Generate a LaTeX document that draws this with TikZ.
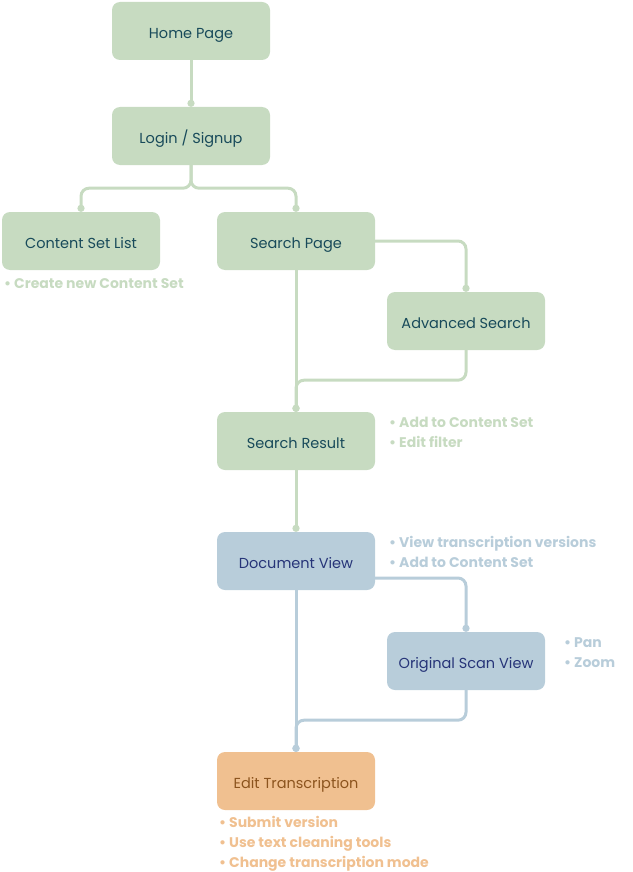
\documentclass[tikz,border=0pt]{standalone}
\usepackage{fontspec}
\setmainfont{Poppins}
\usetikzlibrary{arrows.meta}
\definecolor{boxgreen}{RGB}{199,219,193}
\definecolor{boxblue}{RGB}{184,205,218}
\definecolor{boxorange}{RGB}{240,192,144}
\definecolor{textgreen}{RGB}{24,74,90}
\definecolor{textblue}{RGB}{38,52,120}
\definecolor{textorange}{RGB}{140,84,30}
\begin{document}
\begin{tikzpicture}[x=1pt, y=-1pt,
				>={Circle[length=7pt]},   %Punkte an den Enden
				page/.style={rounded corners=8pt, minimum width=158pt, minimum height=58pt, inner sep=0pt, text height=18pt, text depth=3pt, font=\fontsize{14.5}{16}\selectfont},
				greenpage/.style={page, fill=boxgreen, text=textgreen},
				bluepage/.style={page, fill=boxblue, text=textblue},
				orangepage/.style={page, fill=boxorange, text=textorange},
				link/.style={->, line width=3pt, rounded corners=8pt},
				note/.style={anchor=base west, inner sep=0pt, font=\fontsize{14}{16}\selectfont\bfseries}]
				%Bildbereich
				\useasboundingbox (0,0) rectangle (632,872);
				% Seiten zeichnen
				\node[greenpage] (home) at (191,31) {Home Page};
				\node[greenpage] (login) at (191,136) {Login / Signup};
				\node[greenpage] (list) at (81,241) {Content Set List};
				\node[greenpage] (search) at (296,241) {Search Page};
				\node[greenpage] (adv) at (466,321) {Advanced Search};
				\node[greenpage] (result) at (296,441) {Search Result};
				\node[bluepage] (doc) at (296,561) {Document View};
				\node[bluepage] (scan) at (466,661) {Original Scan View};
				\node[orangepage] (edit) at (296,781) {Edit Transcription};
				% Verbindungen zeichnen
				\draw[link, boxgreen] (home) -- (login);
				\draw[link, boxgreen] (login.south) -- ++(0,23) -| (list.north);
				\draw[link, boxgreen] (login.south) -- ++(0,23) -| (search.north);
				\draw[link, boxgreen] (search.east) -| (adv.north);
				\draw[link, boxgreen] (search) -- (result);
				\draw[link, boxgreen] (adv.south) -- ++(0,30) -| (result.north);
				\draw[link, boxgreen] (result) -- (doc);
				\draw[link, boxblue] ([yshift=-17pt]doc.east) -| (scan.north);
				\draw[link, boxblue] (doc) -- (edit);
				\draw[link, boxblue] (scan.south) -- ++(0,30) -| (edit.north);
				% Notizen
				\node[note, text=boxgreen] (listnote) at (4,288) {• Create new Content Set};
				\foreach \t [count=\i] in {Add to Content Set, Edit filter}
					\node[note, text=boxgreen] (resultnote\i) at (389,407+20*\i) {• \t};
				\foreach \t [count=\i] in {View transcription versions, Add to Content Set}
					\node[note, text=boxblue] (docnote\i) at (389,527+20*\i) {• \t};
				\foreach \t [count=\i] in {Pan, Zoom}
					\node[note, text=boxblue] (scannote\i) at (564,627+20*\i) {• \t};
				\foreach \t [count=\i] in {Submit version, Use text cleaning tools, Change transcription mode}
					\node[note, text=boxorange] (editnote\i) at (219,807+20*\i) {• \t};
\end{tikzpicture}
\end{document}
